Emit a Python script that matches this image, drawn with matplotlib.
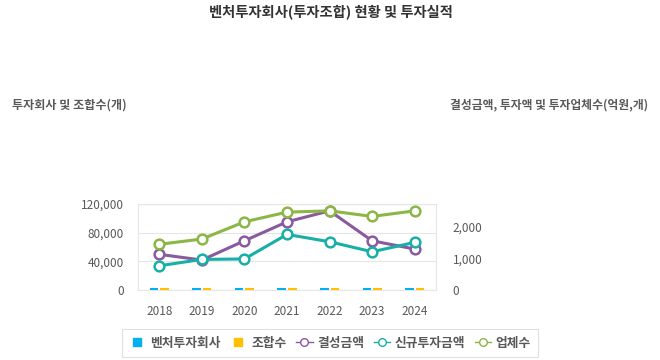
import matplotlib
matplotlib.use("Agg")
import matplotlib.pyplot as plt
from matplotlib.lines import Line2D
from matplotlib.ticker import FuncFormatter
import numpy as np

plt.rcParams['font.family'] = ['Noto Sans CJK KR', 'DejaVu Sans']

years = ['2018', '2019', '2020', '2021', '2022', '2023', '2024']

# left axis (개) - bars sit almost flat at the bottom
venture_firms = [2300, 2350, 2400, 2450, 2450, 2500, 2500]
funds = [2400, 2450, 2500, 2550, 2550, 2600, 2600]

# right axis (억원, 개)
fund_amount = [1120, 940, 1545, 2140, 2485, 1545, 1285]
new_invest = [760, 960, 975, 1745, 1515, 1200, 1495]
companies = [1435, 1600, 2140, 2445, 2485, 2310, 2485]

c_blue = '#00B0F0'
c_orange = '#FFC000'
c_purple = '#8A5A9F'
c_teal = '#18B0A6'
c_green = '#8CB646'
grey_txt = '#595959'
grid_c = '#E6E6E6'

fig = plt.figure(figsize=(6.6, 3.6), dpi=100)
ax = fig.add_axes([138 / 660, 1 - 290 / 360, 298 / 660, 86 / 360])
ax2 = ax.twinx()

x = np.arange(len(years))
ax.bar(x - 0.125, venture_firms, width=0.2, color=c_blue, zorder=3)
ax.bar(x + 0.125, funds, width=0.2, color=c_orange, zorder=3)

line_kw = dict(lw=2.2, marker='o', ms=7, mfc='white', mew=1.8, zorder=3)
ax2.plot(x, fund_amount, color=c_purple, **line_kw)
ax2.plot(x, new_invest, color=c_teal, **line_kw)
ax2.plot(x, companies, color=c_green, **line_kw)

ax.set_xlim(-0.5, 6.5)
ax.set_ylim(0, 120000)
ax.set_yticks([0, 40000, 80000, 120000])
ax2.set_ylim(0, 2700)
ax2.set_yticks([0, 1000, 2000])

fmt = FuncFormatter(lambda v, p: f'{int(v):,}')
ax.yaxis.set_major_formatter(fmt)
ax2.yaxis.set_major_formatter(fmt)
ax.set_xticks(x)
ax.set_xticklabels(years)

ax.yaxis.grid(True, color=grid_c, lw=0.8, zorder=0)
for s in ax.spines.values():
    s.set_color(grid_c)
    s.set_linewidth(0.8)
    s.set_zorder(1)
for s in ax2.spines.values():
    s.set_visible(False)
for a in (ax, ax2):
    a.tick_params(length=0, labelsize=8.5, colors=grey_txt)
ax.tick_params(axis='y', pad=10)
ax.tick_params(axis='x', pad=11)
ax2.tick_params(axis='y', pad=12)

fig.text(331 / 660, 1 - 12 / 360, '벤처투자회사(투자조합) 현황 및 투자실적', ha='center', va='center',
         fontsize=10.3, fontweight='bold', color='#333333')
fig.text(12 / 660, 1 - 105 / 360, '투자회사 및 조합수(개)', ha='left', va='center',
         fontsize=8.7, fontweight='bold', color=grey_txt)
fig.text(648 / 660, 1 - 105 / 360, '결성금액, 투자액 및 투자업체수(억원,개)', ha='right', va='center',
         fontsize=8.5, fontweight='bold', color=grey_txt)

handles = [
    Line2D([], [], ls='none', marker='s', ms=6, color=c_blue),
    Line2D([], [], ls='none', marker='s', ms=6, color=c_orange),
    Line2D([], [], lw=1, marker='o', ms=5.5, mfc='white', color=c_purple),
    Line2D([], [], lw=1, marker='o', ms=5.5, mfc='white', color=c_teal),
    Line2D([], [], lw=1, marker='o', ms=5.5, mfc='white', color=c_green),
]
labels = ['벤처투자회사', '조합수', '결성금액', '신규투자금액', '업체수']
leg = fig.legend(handles, labels, loc='center', bbox_to_anchor=(330 / 660, 1 - 343 / 360),
                 ncol=5, fontsize=9.2, frameon=True, fancybox=False, edgecolor='#D9D9D9',
                 handlelength=1.3, handletextpad=0.35, columnspacing=0.75, borderpad=0.55)
for t in leg.get_texts():
    t.set_color(grey_txt)
    t.set_fontweight('bold')
leg.get_frame().set_linewidth(0.8)

fig.savefig('out.png', dpi=100)
